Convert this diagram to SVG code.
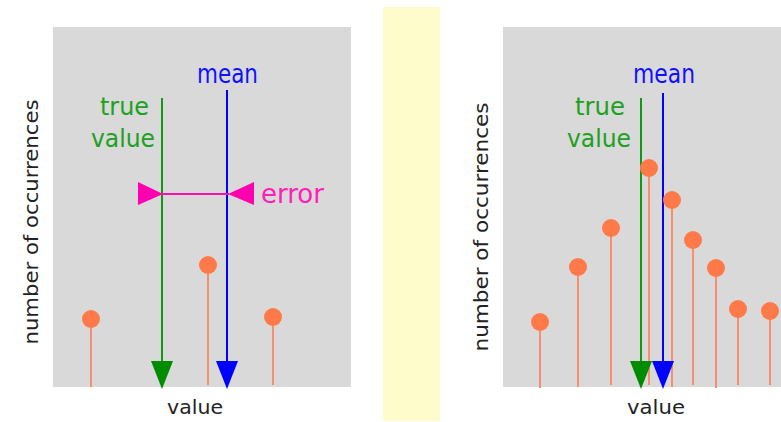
<svg xmlns="http://www.w3.org/2000/svg" width="781" height="422" viewBox="0 0 781 422">
<style>
.panel{fill:#d9d9d9}
.stem{stroke:#f58f6c;stroke-width:2}
.dot{fill:#ff7a48}
.g{stroke:#119911;stroke-width:2}
.b{stroke:#0000ff;stroke-width:2}
.m{stroke:#ff10b0;stroke-width:2}
.gh{fill:#008c00}
.bh{fill:#0000ff}
.mh{fill:#ff00b0}
.lab{font-family:"DejaVu Sans","Liberation Sans",sans-serif}
.ax{font-family:"DejaVu Sans","Liberation Sans",sans-serif;font-size:20px;fill:#222}
.tg{fill:#20a020;font-size:25px}
.tb{fill:#1010ff;font-size:26px}
.tm{fill:#ff20b8;font-size:26px}
</style>
<rect x="0" y="0" width="781" height="422" fill="#ffffff"/>
<g id="left-panel">
<rect class="panel" x="53" y="27" width="298" height="360"/>
<text class="ax" transform="translate(38,222) rotate(-90)" text-anchor="middle" textLength="245" lengthAdjust="spacingAndGlyphs">number of occurrences</text>
<text class="ax" x="195" y="414" text-anchor="middle" textLength="56" lengthAdjust="spacingAndGlyphs">value</text>
</g>
<rect id="divider" x="383" y="7" width="57" height="414" fill="#fffccc"/>
<g id="right-panel">
<rect class="panel" x="503" y="27" width="278" height="360"/>
<text class="ax" transform="translate(488,227) rotate(-90)" text-anchor="middle" textLength="249" lengthAdjust="spacingAndGlyphs">number of occurrences</text>
<text class="ax" x="656" y="414" text-anchor="middle" textLength="58" lengthAdjust="spacingAndGlyphs">value</text>
</g>
<g id="left-stems">
<line class="stem" x1="91" y1="319" x2="91" y2="387"/>
<line class="stem" x1="208" y1="265" x2="208" y2="385"/>
<line class="stem" x1="273" y1="317" x2="273" y2="385"/>
</g>
<g id="right-stems">
<line class="stem" x1="540" y1="322" x2="540" y2="388"/>
<line class="stem" x1="578" y1="267" x2="578" y2="387"/>
<line class="stem" x1="611" y1="228" x2="611" y2="385"/>
<line class="stem" x1="649" y1="168" x2="649" y2="385"/>
<line class="stem" x1="672" y1="200" x2="672" y2="387"/>
<line class="stem" x1="693" y1="240" x2="693" y2="385"/>
<line class="stem" x1="716" y1="268" x2="716" y2="388"/>
<line class="stem" x1="738" y1="309" x2="738" y2="385"/>
<line class="stem" x1="770" y1="311" x2="770" y2="385"/>
</g>
<g id="connectors">
<line class="g" x1="162" y1="98" x2="162" y2="370"/>
<polygon class="gh" points="151,361 173,361 162,389"/>
<line class="b" x1="227" y1="90" x2="227" y2="370"/>
<polygon class="bh" points="216,361 238,361 227,389"/>
<line class="m" x1="160" y1="194" x2="229" y2="194"/>
<polygon class="mh" points="138,182 138,205 163,194"/>
<polygon class="mh" points="254,182 254,205 228,194"/>
<line class="g" x1="641" y1="98" x2="641" y2="370"/>
<polygon class="gh" points="630,361 652,361 641,389"/>
<line class="b" x1="663" y1="93" x2="663" y2="370"/>
<polygon class="bh" points="652,361 674,361 663,389"/>
</g>
<g id="left-dots">
<circle id="l1" class="dot" cx="91" cy="319" r="9"/>
<circle id="l2" class="dot" cx="208" cy="265" r="9"/>
<circle id="l3" class="dot" cx="273" cy="317" r="9"/>
</g>
<g id="right-dots">
<circle id="r1" class="dot" cx="540" cy="322" r="9"/>
<circle id="r2" class="dot" cx="578" cy="267" r="9"/>
<circle id="r3" class="dot" cx="611" cy="228" r="9"/>
<circle id="r4" class="dot" cx="649" cy="168" r="9"/>
<circle id="r5" class="dot" cx="672" cy="200" r="9"/>
<circle id="r6" class="dot" cx="693" cy="240" r="9"/>
<circle id="r7" class="dot" cx="716" cy="268" r="9"/>
<circle id="r8" class="dot" cx="738" cy="309" r="9"/>
<circle id="r9" class="dot" cx="770" cy="311" r="9"/>
</g>
<g id="left-labels" class="lab">
<text class="tg" x="149" y="115" text-anchor="end" textLength="49" lengthAdjust="spacingAndGlyphs">true</text>
<text class="tg" x="155" y="147" text-anchor="end" textLength="64" lengthAdjust="spacingAndGlyphs">value</text>
<text class="tb" x="197" y="83" textLength="61" lengthAdjust="spacingAndGlyphs">mean</text>
<text class="tm" x="261" y="203" textLength="63" lengthAdjust="spacingAndGlyphs">error</text>
</g>
<g id="right-labels" class="lab">
<text class="tg" x="625" y="115" text-anchor="end" textLength="50" lengthAdjust="spacingAndGlyphs">true</text>
<text class="tg" x="631" y="147" text-anchor="end" textLength="64" lengthAdjust="spacingAndGlyphs">value</text>
<text class="tb" x="633" y="83" textLength="62" lengthAdjust="spacingAndGlyphs">mean</text>
</g>
</svg>
